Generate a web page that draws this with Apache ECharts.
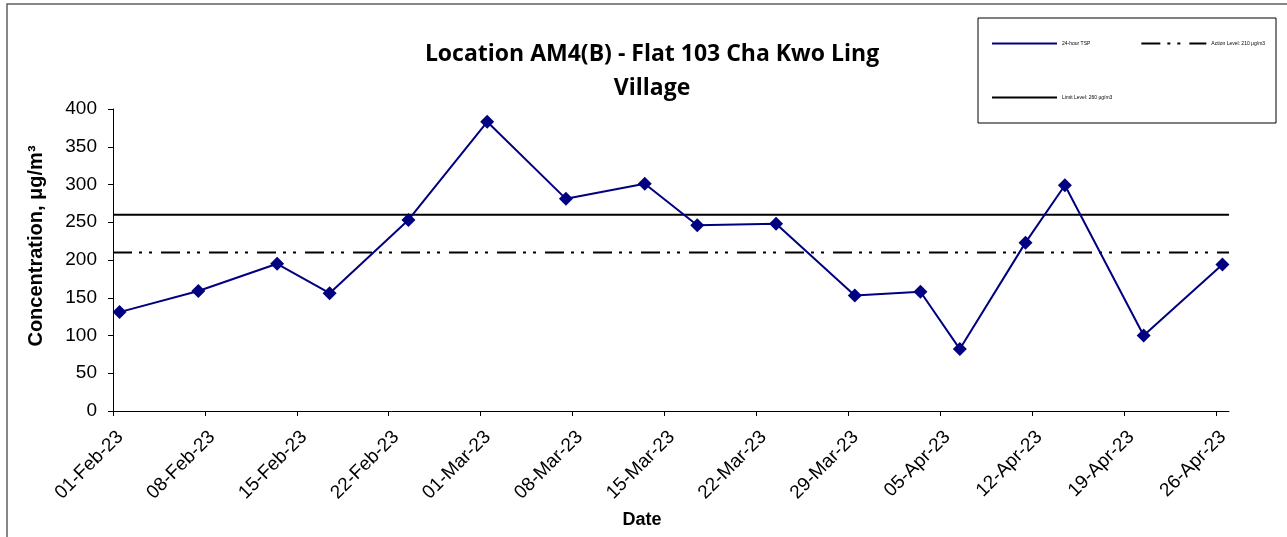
<!DOCTYPE html>
<html><head><meta charset="utf-8">
<script src="https://cdn.jsdelivr.net/npm/echarts@6/dist/echarts.min.js"></script>
<style>html,body{margin:0;padding:0;background:#fff}#c{width:1287px;height:537px}</style>
</head><body><div id="c"></div>
<script>
const sampleDates = ['2023-02-01','2023-02-07','2023-02-13','2023-02-17','2023-02-23','2023-03-01','2023-03-07','2023-03-13','2023-03-17','2023-03-23','2023-03-29','2023-04-03','2023-04-06','2023-04-11','2023-04-14','2023-04-20','2023-04-26'];
const tspValues = [131, 159, 195, 156, 253, 383, 281, 301, 246, 248, 153, 158, 82, 223, 299, 100, 194];
const tickLabels = ['01-Feb-23','08-Feb-23','15-Feb-23','22-Feb-23','01-Mar-23','08-Mar-23','15-Mar-23','22-Mar-23','29-Mar-23','05-Apr-23','12-Apr-23','19-Apr-23','26-Apr-23'];
const actionLevel = 210;
const limitLevel = 260;
const axisStart = '2023-02-01';
const axisEnd = '2023-04-27';
const seriesNames = ['24-hour TSP', 'Action Level: 210 \u03bcg/m3', 'Limit Level: 260 \u03bcg/m3'];

const DAY = 86400000;
const dayOf = d => (Date.parse(d) - Date.parse(axisStart)) / DAY;
const xMax = dayOf(axisEnd);
const tickDays = tickLabels.map((_, i) => i * 7);
const labelDays = tickDays.map(d => d + 0.55);
const tspData = sampleDates.map((d, i) => [dayOf(d) + 0.5, tspValues[i]]);

const chart = echarts.init(document.getElementById('c'));
chart.setOption({
  animation: false,
  backgroundColor: '#fff',
  title: {
    text: 'Location AM4(B) - Flat 103 Cha Kwo Ling\nVillage',
    left: 647, top: 32, textAlign: 'center',
    textStyle: { fontFamily: 'Open Sans', fontWeight: 'bold', fontSize: 23, lineHeight: 34, color: '#000' }
  },
  graphic: [
    { type: 'rect', shape: { x: 7, y: 4, width: 1400, height: 700 }, style: { fill: 'none', stroke: '#606060', lineWidth: 1.5 }, silent: true },
    { type: 'rect', shape: { x: 978, y: 18, width: 298, height: 105 }, style: { fill: 'none', stroke: '#000', lineWidth: 1 }, silent: true }
  ],
  legend: [
    { data: [seriesNames[0], seriesNames[1]], left: 991, top: 41, orient: 'horizontal', itemWidth: 65, itemHeight: 4, itemGap: 50, padding: 0,
      itemStyle: { opacity: 0 }, textStyle: { fontSize: 5, fontFamily: 'Liberation Sans', color: '#000' } },
    { data: [seriesNames[2]], left: 991, top: 95, orient: 'horizontal', itemWidth: 65, itemHeight: 4, padding: 0,
      itemStyle: { opacity: 0 }, textStyle: { fontSize: 5, fontFamily: 'Liberation Sans', color: '#000' } }
  ],
  grid: { left: 113, right: 58, top: 109, bottom: 126, containLabel: false },
  xAxis: {
    type: 'value', min: 0, max: xMax,
    name: 'Date', nameLocation: 'middle', nameGap: 100,
    nameTextStyle: { fontFamily: 'Liberation Sans', fontWeight: 'bold', fontSize: 18, color: '#000', padding: [0, 58, 0, 0] },
    axisLine: { show: true, lineStyle: { color: '#000', width: 1 } },
    axisTick: { show: true, length: 5, customValues: tickDays, lineStyle: { color: '#000' } },
    axisLabel: { customValues: labelDays, rotate: 45, margin: 23, fontFamily: 'Liberation Sans', fontSize: 19, color: '#000',
      formatter: v => tickLabels[Math.floor(v / 7)] || '' },
    splitLine: { show: false }
  },
  yAxis: {
    type: 'value', min: 0, max: 400, interval: 50,
    name: 'Concentration, \u03bcg/m\u00b3', nameLocation: 'middle', nameGap: 67,
    nameTextStyle: { fontFamily: 'Liberation Sans', fontWeight: 'bold', fontSize: 20, color: '#000', padding: [0, 0, 0, 28] },
    axisLine: { show: true, lineStyle: { color: '#000', width: 1 } },
    axisTick: { show: true, length: 5, lineStyle: { color: '#000' } },
    axisLabel: { margin: 16, fontFamily: 'Liberation Sans', fontSize: 19, color: '#000' },
    splitLine: { show: false }
  },
  series: [
    { name: seriesNames[2], type: 'line', data: [[0, limitLevel], [xMax, limitLevel]], symbol: 'none', z: 2,
      lineStyle: { color: '#000', width: 2 }, itemStyle: { color: '#000' } },
    { name: seriesNames[1], type: 'line', data: [[0, actionLevel], [xMax, actionLevel]], symbol: 'none', z: 2,
      lineStyle: { color: '#000', width: 2, type: [19, 7, 3, 7, 3, 9] }, itemStyle: { color: '#000' } },
    { name: seriesNames[0], type: 'line', data: tspData, symbol: 'diamond', symbolSize: 14, z: 3,
      lineStyle: { color: '#000080', width: 2 }, itemStyle: { color: '#000080' } }
  ]
});
</script></body></html>
